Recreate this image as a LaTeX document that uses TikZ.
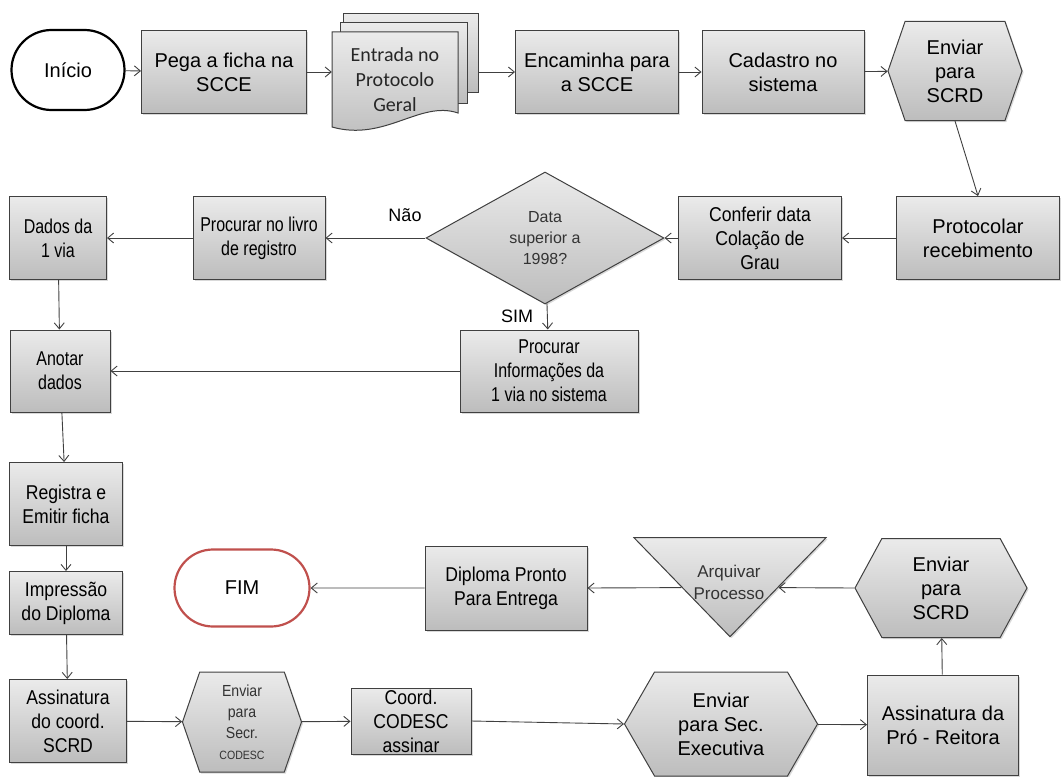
\documentclass[tikz,border=0pt]{standalone}
\usepackage{fontspec}
\setmainfont{Liberation Sans}
\newfontfamily\docfont{Carlito}
\newfontfamily\condfont[FakeStretch=0.88]{Liberation Sans}
\newfontfamily\narrowfont[FakeStretch=0.8]{Liberation Sans}
\usetikzlibrary{positioning, shapes.geometric, shapes.misc, shapes.symbols, arrows.meta, shadows}
\definecolor{boxline}{HTML}{404040}
\definecolor{fimred}{HTML}{C0504D}
\tikzset{
	graybox/.style={
			draw=boxline,
			line width=1pt,
			top color=gray!16,
			bottom color=gray!52,
			drop shadow={shadow xshift=1.5pt, shadow yshift=-1.5pt, opacity=0.3},
			align=center,
			inner sep=0pt,
			font=\fontsize{20}{24}\selectfont
		},
	processnode/.style={
			graybox,
			rectangle
		},
	hexnode/.style={
			graybox,
			signal,
			signal to=west and east
		},
	decisionnode/.style={
			graybox,
			diamond,
			text=black!80,
			font=\fontsize{16}{21}\selectfont
		},
	archivenode/.style={
			graybox,
			isosceles triangle,
			isosceles triangle stretches,
			shape border rotate=270
		},
	terminalnode/.style={
			rounded rectangle,
			draw=black,
			line width=2.2pt,
			fill=white,
			inner sep=0pt,
			font=\fontsize{20}{24}\selectfont
		},
	docpage/.style={
			draw=boxline,
			line width=1pt,
			top color=gray!16,
			bottom color=gray!52
		},
	flowarrow/.style={
			draw=black!75,
			line width=0.9pt,
			-{Straight Barb[length=6pt, width=10pt]}
		},
	branchlabel/.style={font=\fontsize{18}{21}\selectfont}
}
\newcommand{\condtext}{\condfont\fontsize{20}{24}\selectfont}
\newcommand{\narrowtext}{\narrowfont\fontsize{20}{24}\selectfont}

\begin{document}
\begin{tikzpicture}[x=1pt, y=-1pt]

  \useasboundingbox (0,0) rectangle (1064,776);

  % first row
  \node[terminalnode, minimum width=113pt, minimum height=80pt] (inicio) at (68,70) {Início};
  \node[processnode, minimum width=165pt, minimum height=83pt] (pega) at (224,72) {Pega a ficha na\\SCCE};

  \draw[docpage] (343,14) rectangle (478,92);
  \draw[docpage] (340,23) rectangle (467,103);
  \draw[docpage] (332,32) -- (458,32) -- (458,113)
    .. controls (420,100) and (385,142) .. (332,127) -- cycle;
  \node[align=center, inner sep=0pt, minimum width=126pt, minimum height=96pt,
    text=black!85, font=\docfont\fontsize{20}{25}\selectfont] (entrada) at (395,80) {Entrada no\\Protocolo\\Geral};
  \coordinate (stackright) at (478,72);

  \node[processnode, minimum width=163pt, minimum height=83pt] (encaminha) at (597,72) {Encaminha para\\a SCCE};
  \node[processnode, minimum width=162pt, minimum height=83pt] (cadastro) at (783,72) {Cadastro no\\sistema};
  \node[hexnode, minimum width=134pt, minimum height=99pt, signal pointer angle=142] (enviarA) at (955,71) {Enviar\\para\\SCRD};

  % second row
  \node[processnode, minimum width=163pt, minimum height=83pt] (protocolar) at (978,238) {Protocolar\\recebimento};
  \node[processnode, minimum width=163pt, minimum height=83pt, font=\condtext] (conferir) at (760,238) {Conferir data\\Colação de\\Grau};
  \node[decisionnode, minimum width=238pt, minimum height=132pt] (decisao) at (545,238) {Data\\superior a\\1998?};
  \node[processnode, minimum width=132pt, minimum height=83pt, font=\narrowtext] (livro) at (259,238) {Procurar no livro\\de registro};
  \node[processnode, minimum width=97pt, minimum height=83pt, font=\narrowtext] (dados) at (58,238) {Dados da\\1 via};

  % third row
  \node[processnode, minimum width=100pt, minimum height=82pt, font=\narrowtext] (anotar) at (60,371) {Anotar\\dados};
  \node[processnode, minimum width=178pt, minimum height=82pt, font=\narrowtext] (procinfo) at (549,371) {Procurar\\Informações da\\1 via no sistema};

  % left column
  \node[processnode, minimum width=113pt, minimum height=83pt, font=\condtext] (registra) at (66,504) {Registra e\\Emitir ficha};
  \node[processnode, minimum width=113pt, minimum height=63pt, font=\condtext] (impressao) at (66,603) {Impressão\\do Diploma};
  \node[processnode, minimum width=117pt, minimum height=83pt, font=\condtext] (assincoord) at (68,721) {Assinatura\\do coord.\\SCRD};

  % bottom row
  \node[hexnode, minimum width=119pt, minimum height=100pt, signal pointer angle=142,
    text=black!80, font=\condfont\fontsize{16}{21}\selectfont] (enviarsecr) at (242,722) {Enviar\\para\\Secr.\\{\fontsize{12}{14}\selectfont CODESC}};
  \node[processnode, minimum width=120pt, minimum height=66pt, font=\condtext] (coordcodesc) at (411,721) {Coord.\\CODESC\\assinar};
  \node[hexnode, minimum width=193pt, minimum height=104pt, signal pointer angle=120] (enviarexec) at (721,724) {Enviar\\para Sec.\\Executiva};
  \node[processnode, minimum width=151pt, minimum height=100pt] (assinpro) at (943,725) {Assinatura da\\Pró - Reitora};

  % return row
  \node[hexnode, minimum width=172pt, minimum height=99pt, signal pointer angle=123] (enviarB) at (941,588) {Enviar\\para\\SCRD};
  \node[archivenode, minimum width=192pt, minimum height=99pt, anchor=apex] (arquivar) at (730,638) {};
  \node[align=center, text=black!80, font=\fontsize{17}{22}\selectfont] (arquivartext) at (729,582) {Arquivar\\Processo};
  \node[processnode, minimum width=162pt, minimum height=84pt, font=\condtext] (pronto) at (506,588) {Diploma Pronto\\Para Entrega};
  \node[terminalnode, draw=fimred, minimum width=135pt, minimum height=77pt] (fim) at (242,588) {FIM};

  % connectors
  \draw[flowarrow] (inicio) -- (pega);
  \draw[flowarrow] (pega.east) -- (pega.east -| entrada.west);
  \draw[flowarrow] (stackright) -- (stackright -| encaminha.west);
  \draw[flowarrow] (encaminha) -- (cadastro);
  \draw[flowarrow] (cadastro) -- (enviarA);
  \draw[flowarrow] (enviarA.south) -- (protocolar.north);
  \draw[flowarrow] (protocolar) -- (conferir);
  \draw[flowarrow] (conferir) -- (decisao);
  \draw[flowarrow] (decisao) -- (livro);
  \draw[flowarrow] (livro) -- (dados);
  \draw[flowarrow] (decisao) -- (procinfo);
  \draw[flowarrow] (dados) -- (anotar);
  \draw[flowarrow] (procinfo) -- (anotar);
  \draw[flowarrow] (anotar) -- (registra);
  \draw[flowarrow] (registra) -- (impressao);
  \draw[flowarrow] (impressao) -- (assincoord);
  \draw[flowarrow] (assincoord) -- (enviarsecr);
  \draw[flowarrow] (enviarsecr) -- (coordcodesc);
  \draw[flowarrow] (coordcodesc.east) -- (enviarexec.west);
  \draw[flowarrow] (enviarexec) -- (assinpro);
  \draw[flowarrow] (assinpro) -- (enviarB);
  \draw[flowarrow] (enviarB.west) -- (arquivar.left side);
  \draw[flowarrow] (arquivar.right side) -- (pronto.east);
  \draw[flowarrow] (pronto) -- (fim);

  % branch labels
  \node[branchlabel] (naolabel) at (405,215) {Não};
  \node[branchlabel] (simlabel) at (517,316) {SIM};

\end{tikzpicture}
\end{document}
